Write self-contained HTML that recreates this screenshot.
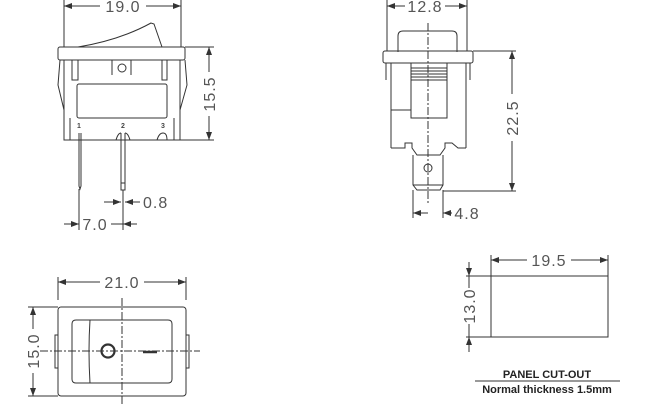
<!DOCTYPE html>
<html><head><meta charset="utf-8"><style>
html,body{margin:0;padding:0;background:#fff;}
svg{display:block;}
text{font-family:"Liberation Sans",sans-serif;fill:#444;}
.d text{font-size:16px;letter-spacing:1px;fill:#555;}
</style></head><body>
<svg width="648" height="418" viewBox="0 0 648 418" xmlns="http://www.w3.org/2000/svg">
<defs>
<marker id="a" markerWidth="8" markerHeight="6" refX="8" refY="3" orient="auto" markerUnits="userSpaceOnUse"><path d="M0,0 L8,3 L0,6z" fill="#333"/></marker>
</defs>
<g stroke="#333" stroke-width="1" fill="none">
<line x1="64" y1="0" x2="64" y2="47"/><line x1="181" y1="0" x2="181" y2="47"/>
<line x1="100" y1="6" x2="64" y2="6" marker-end="url(#a)"/><line x1="146" y1="6" x2="181" y2="6" marker-end="url(#a)"/>
<rect x="58" y="47" width="127" height="13" rx="2"/>
<path d="M78,47 Q120,40 151,23 L154,24 L162,47"/>
<path d="M64,60 L64,140 L180,140 L180,60"/>
<path d="M60,60 L58,85 L64,110 M185,60 L187,85 L180,110"/>
<rect x="77" y="84" width="90" height="34" rx="2"/>
<path d="M72,60 V80 H78 V60 M112,60 V75 M131,60 V75 M162,60 V80 H167 V60"/>
<circle cx="122" cy="68" r="4"/>
<line x1="70" y1="118" x2="70" y2="140"/><line x1="174" y1="118" x2="174" y2="140"/>
<path d="M79,133 L79,186 L80,189 L81,186 L81,133"/>
<path d="M121,133 L121,190 L125,190 L125,133 M121,183 H125"/>
<path d="M116,140 Q118,133 121,133 M125,133 Q128,133 130,140 M157,140 Q159,133 163,133 Q167,133 167,140"/>
<line x1="79" y1="189" x2="79" y2="230"/><line x1="123" y1="190" x2="123" y2="230"/>
<line x1="104" y1="202" x2="121" y2="202" marker-end="url(#a)"/><line x1="140" y1="202" x2="125" y2="202" marker-end="url(#a)"/>
<line x1="64" y1="224" x2="79" y2="224" marker-end="url(#a)"/><line x1="111" y1="224" x2="137" y2="224"/><line x1="137" y1="224" x2="123" y2="224" marker-end="url(#a)"/>
<line x1="185" y1="47" x2="214" y2="47"/><line x1="180" y1="140" x2="214" y2="140"/>
<line x1="209" y1="72" x2="209" y2="47" marker-end="url(#a)"/><line x1="209" y1="116" x2="209" y2="140" marker-end="url(#a)"/>
<line x1="387" y1="0" x2="387" y2="51"/><line x1="467" y1="0" x2="467" y2="51"/>
<line x1="405" y1="6" x2="387" y2="6" marker-end="url(#a)"/><line x1="445" y1="6" x2="467" y2="6" marker-end="url(#a)"/>
<path d="M398,52 V36 Q398,31 403,31 H452 Q457,31 457,36 V52"/>
<rect x="383" y="51" width="90" height="12" rx="2"/>
<path d="M391,63 V148 M466,63 V148 M386,63 V80 M470,63 V80"/>
<path d="M411,63 V118 H447 V63 M391,110 H411"/>
<path d="M411,68 H447 M411,71 H447 M411,74 H447 M411,77 H447 M411,80 H447"/>
<path d="M391,148 H405 L405,143 L412,143 L412,148 L417,155 H440 L445,148 L445,143 L452,143 L458,148 H466"/>
<path d="M413,155 V185 L417,190 H440 L443,185 V155 M413,185 H443"/>
<circle cx="428" cy="168" r="4"/>
<line x1="428" y1="23" x2="428" y2="205" stroke-dasharray="8,2,2,2"/>
<line x1="413" y1="190" x2="413" y2="218"/><line x1="443" y1="190" x2="443" y2="218"/>
<line x1="428" y1="213" x2="413" y2="213" marker-end="url(#a)"/><line x1="452" y1="213" x2="443" y2="213" marker-end="url(#a)"/>
<line x1="473" y1="51" x2="516" y2="51"/><line x1="443" y1="191" x2="516" y2="191"/>
<line x1="512" y1="94" x2="512" y2="51" marker-end="url(#a)"/><line x1="512" y1="141" x2="512" y2="191" marker-end="url(#a)"/>
<line x1="58" y1="277" x2="58" y2="300"/><line x1="186" y1="277" x2="186" y2="300"/>
<line x1="100" y1="282" x2="58" y2="282" marker-end="url(#a)"/><line x1="144" y1="282" x2="186" y2="282" marker-end="url(#a)"/>
<rect x="58" y="307" width="128" height="89" rx="3"/>
<rect x="55" y="335" width="3" height="33"/><rect x="186" y="335" width="3" height="33"/>
<path d="M76,320 H168 Q172,320 172,324 V379 Q172,383 168,383 H76 Q72,383 72,379 V324 Q72,320 76,320z"/>
<path d="M90,320 Q88,351 90,383"/>
<line x1="40" y1="351" x2="200" y2="351" stroke-dasharray="8,2,2,2"/>
<line x1="122" y1="298" x2="122" y2="405" stroke-dasharray="8,2,2,2"/>
<circle cx="108" cy="351" r="6.5" stroke-width="2.2"/>
<line x1="143" y1="352" x2="157" y2="352" stroke-width="2.5"/>
<line x1="28" y1="307" x2="58" y2="307"/><line x1="28" y1="396" x2="58" y2="396"/>
<line x1="33" y1="329" x2="33" y2="307" marker-end="url(#a)"/><line x1="33" y1="373" x2="33" y2="396" marker-end="url(#a)"/>
<line x1="491" y1="255" x2="491" y2="276"/><line x1="608" y1="255" x2="608" y2="276"/>
<line x1="527" y1="260" x2="491" y2="260" marker-end="url(#a)"/><line x1="571" y1="260" x2="608" y2="260" marker-end="url(#a)"/>
<rect x="491" y="276" width="117" height="61"/>
<line x1="466" y1="276" x2="491" y2="276"/><line x1="466" y1="337" x2="491" y2="337"/>
<line x1="469" y1="262" x2="469" y2="276" marker-end="url(#a)"/><line x1="469" y1="352" x2="469" y2="337" marker-end="url(#a)"/>
<line x1="469" y1="276" x2="469" y2="288"/><line x1="469" y1="324" x2="469" y2="337"/>
<line x1="475" y1="381" x2="620" y2="381"/>
</g>
<g class="d">
<text x="123" y="12" text-anchor="middle">19.0</text>
<text x="143" y="208">0.8</text>
<text x="95" y="230" text-anchor="middle">7.0</text>
<text transform="translate(215,94) rotate(-90)" text-anchor="middle">15.5</text>
<text x="425" y="12" text-anchor="middle">12.8</text>
<text x="467" y="219" text-anchor="middle">4.8</text>
<text transform="translate(518,118) rotate(-90)" text-anchor="middle">22.5</text>
<text x="122" y="288" text-anchor="middle">21.0</text>
<text transform="translate(39,351) rotate(-90)" text-anchor="middle">15.0</text>
<text x="549" y="266" text-anchor="middle">19.5</text>
<text transform="translate(475,306) rotate(-90)" text-anchor="middle">13.0</text>
</g>
<g font-size="7" font-weight="bold">
<text x="79" y="128" text-anchor="middle">1</text>
<text x="123" y="128" text-anchor="middle">2</text>
<text x="163" y="128" text-anchor="middle">3</text>
</g>
<text x="547" y="378" text-anchor="middle" font-size="11" font-weight="bold" style="fill:#222">PANEL CUT-OUT</text>
<text x="547" y="393" text-anchor="middle" font-size="11" font-weight="bold" style="fill:#222">Normal thickness 1.5mm</text>
</svg>
</body></html>
